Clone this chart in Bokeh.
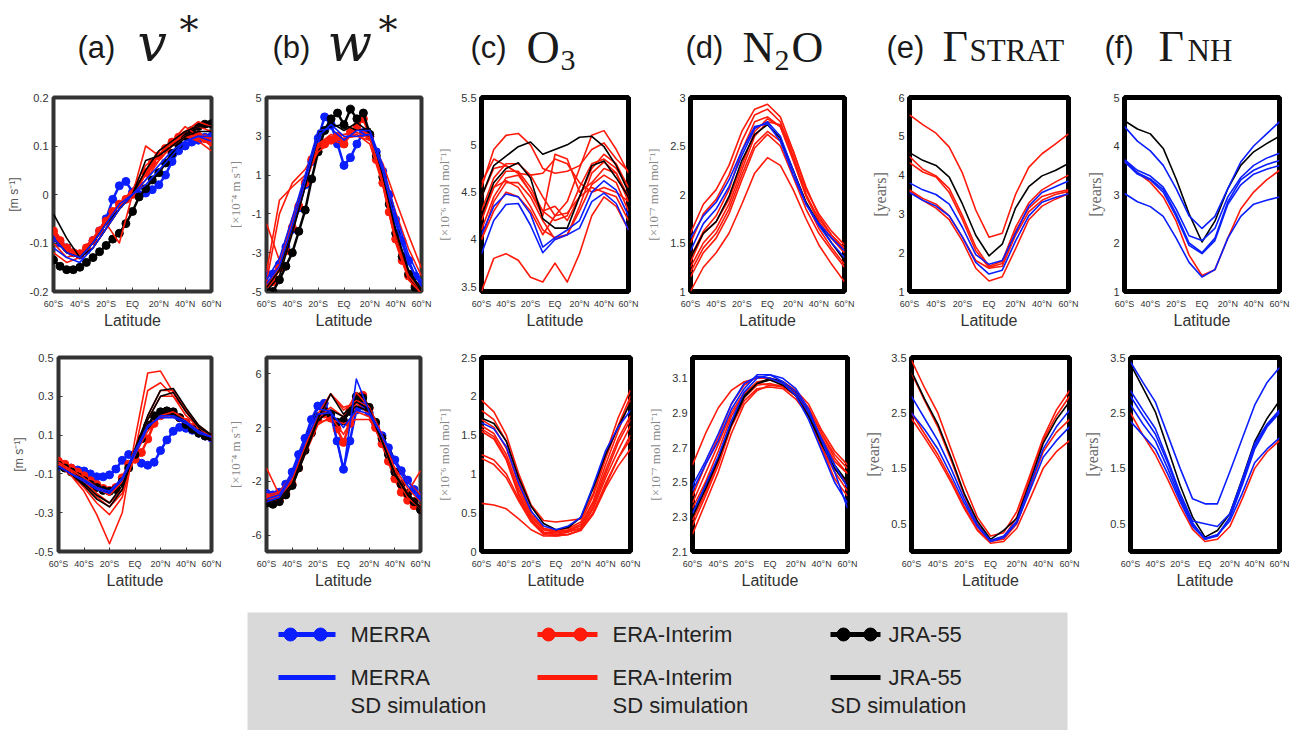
from bokeh.plotting import figure
from bokeh.layouts import column, row
from bokeh.models import Range1d, FixedTicker
from bokeh.embed import file_html
from bokeh.resources import INLINE
from bokeh.core.properties import value

# ---------------- data ----------------
LAT10 = [-60, -50, -40, -30, -20, -10, 0, 10, 20, 30, 40, 50, 60]
LAT5 = [-60, -55, -50, -45, -40, -35, -30, -25, -20, -15, -10, -5, 0,
        5, 10, 15, 20, 25, 30, 35, 40, 45, 50, 55, 60]
X_TICKS = [-60, -40, -20, 0, 20, 40, 60]
X_TICK_LABELS = ["60°S", "40°S", "20°S", "EQ", "20°N", "40°N", "60°N"]

# (a) v*  top row
A1_MERRA = [-0.09, -0.10, -0.11, -0.12, -0.125, -0.115, -0.095, -0.075, -0.05, -0.01, 0.018, 0.027, 0.005,
            0.0, 0.003, 0.01, 0.02, 0.04, 0.068, 0.09, 0.10, 0.108, 0.112, 0.118, 0.12]
A1_ERA = [-0.075, -0.095, -0.11, -0.12, -0.122, -0.11, -0.095, -0.075, -0.055, -0.035, -0.02, -0.01, 0.0,
          0.02, 0.045, 0.065, 0.08, 0.095, 0.108, 0.118, 0.122, 0.125, 0.12, 0.115, 0.11]
A1_JRA = [-0.135, -0.148, -0.155, -0.155, -0.15, -0.14, -0.13, -0.118, -0.105, -0.092, -0.08, -0.06, -0.035,
          -0.005, 0.012, 0.03, 0.045, 0.065, 0.085, 0.103, 0.12, 0.132, 0.14, 0.145, 0.146]
A1_SD_RED = [
    [-0.07, -0.11, -0.12, -0.10, -0.06, -0.02, 0.0, 0.04, 0.08, 0.11, 0.13, 0.14, 0.13],
    [-0.08, -0.12, -0.13, -0.11, -0.07, -0.03, 0.0, 0.05, 0.09, 0.11, 0.14, 0.12, 0.10],
    [-0.10, -0.13, -0.12, -0.09, -0.05, -0.02, 0.01, 0.06, 0.08, 0.10, 0.12, 0.11, 0.09],
    [-0.09, -0.12, -0.12, -0.10, -0.06, -0.10, 0.0, 0.10, 0.08, 0.10, 0.12, 0.13, 0.10],
    [-0.12, -0.14, -0.13, -0.10, -0.05, -0.02, 0.0, 0.03, 0.07, 0.10, 0.12, 0.12, 0.11],
    [-0.07, -0.11, -0.13, -0.11, -0.07, -0.03, 0.01, 0.04, 0.07, 0.10, 0.13, 0.15, 0.14],
]
A1_SD_BLACK = [
    [-0.04, -0.09, -0.13, -0.11, -0.07, -0.03, 0.0, 0.07, 0.08, 0.10, 0.12, 0.13, 0.13],
    [-0.09, -0.12, -0.13, -0.10, -0.06, -0.03, 0.0, 0.05, 0.09, 0.11, 0.13, 0.14, 0.14],
]
A1_SD_BLUE = [
    [-0.09, -0.12, -0.13, -0.10, -0.06, -0.02, 0.0, 0.03, 0.06, 0.09, 0.11, 0.12, 0.11],
    [-0.11, -0.13, -0.14, -0.11, -0.07, -0.03, 0.0, 0.02, 0.05, 0.08, 0.11, 0.12, 0.12],
]

# (b) w*  top row
B1_MERRA = [-4.1, -4.1, -3.6, -2.7, -1.8, -0.7, 0.5, 1.7, 2.9, 4.0, 3.6, 2.6, 1.5,
            1.9, 2.6, 3.2, 3.0, 2.2, 1.2, 0.0, -1.3, -2.4, -3.4, -4.2, -4.6]
B1_ERA = [-4.6, -4.5, -3.8, -2.9, -1.7, -0.6, 0.6, 1.8, 2.4, 2.6, 2.8, 3.0, 2.6,
          3.2, 3.5, 3.9, 3.0, 1.8, 0.6, -0.9, -2.3, -3.4, -4.2, -4.7, -5.0]
B1_JRA = [-5.4, -5.0, -4.4, -3.7, -3.0, -1.9, -0.8, 0.8, 2.2, 3.3, 3.9, 4.2, 3.6,
          4.4, 3.9, 4.2, 3.1, 2.0, 0.9, -0.5, -2.0, -3.2, -4.1, -4.8, -5.3]
B1_SD_RED = [
    [-4.6, -3.8, -1.7, 0.6, 2.4, 2.8, 2.6, 3.5, 3.0, 0.6, -2.3, -4.2, -5.0],
    [-4.0, -0.3, 0.4, 1.0, 2.2, 2.7, 2.9, 3.0, 2.8, 1.6, -0.3, -2.1, -3.8],
    [-4.5, -1.0, 0.6, 1.3, 2.5, 2.9, 3.1, 3.2, 2.9, 1.2, -0.9, -2.8, -4.2],
    [-1.5, -3.4, -1.2, 0.8, 2.6, 3.1, 2.8, 3.4, 3.1, 0.8, -2.0, -4.0, -4.9],
    [-4.8, -3.6, -1.4, 0.9, 2.6, 3.0, 2.9, 3.1, 2.6, 0.5, -2.5, -4.4, -5.1],
]
B1_SD_BLACK = [
    [-5.0, -4.2, -2.0, 0.4, 3.0, 3.5, 3.6, 3.3, 3.4, 1.0, -1.8, -4.0, -5.0],
    [-4.8, -3.9, -1.7, 0.8, 3.2, 3.7, 3.3, 3.7, 3.2, 1.1, -1.9, -3.9, -4.9],
]
B1_SD_BLUE = [
    [-4.4, -3.3, -1.2, 1.0, 3.3, 3.4, 2.8, 3.3, 3.3, 1.5, -1.0, -3.1, -4.5],
    [-4.6, -3.7, -1.6, 0.7, 3.0, 3.6, 3.0, 3.0, 3.1, 1.2, -1.5, -3.6, -4.7],
]

# (c) O3  top row
C1_SD_RED = [
    [4.55, 4.95, 5.1, 5.12, 5.0, 4.75, 4.7, 4.72, 4.78, 4.95, 5.02, 4.85, 4.72],
    [4.3, 4.65, 4.8, 4.8, 4.68, 4.45, 4.25, 4.4, 4.75, 5.1, 5.15, 4.95, 4.7],
    [4.2, 4.55, 4.72, 4.72, 4.55, 4.3, 4.35, 4.2, 4.45, 4.75, 4.9, 4.8, 4.55],
    [4.1, 4.45, 4.65, 4.68, 4.5, 4.25, 4.9, 4.85, 4.5, 4.6, 4.75, 4.7, 4.45],
    [4.0, 4.4, 4.6, 4.6, 4.45, 4.2, 4.0, 4.05, 4.35, 4.7, 4.82, 4.7, 4.4],
    [4.45, 4.75, 4.78, 4.7, 4.5, 4.3, 4.2, 4.25, 4.55, 4.8, 4.85, 4.75, 4.55],
    [4.25, 4.55, 4.62, 4.55, 4.35, 4.1, 4.02, 4.05, 4.3, 4.58, 4.68, 4.6, 4.3],
    [3.45, 3.8, 3.85, 3.78, 3.6, 3.55, 3.75, 3.55, 3.85, 4.25, 4.45, 4.35, 4.1],
    [4.0, 4.3, 4.5, 4.45, 4.3, 4.05, 4.25, 4.28, 4.45, 4.55, 4.5, 4.45, 4.2],
    [4.6, 4.85, 4.78, 4.7, 4.68, 4.7, 4.85, 4.8, 4.6, 4.5, 4.55, 4.5, 4.4],
]
C1_SD_BLACK = [
    [4.45, 4.78, 4.88, 4.98, 5.03, 4.9, 4.95, 5.0, 5.08, 5.09, 4.98, 4.78, 4.5],
    [4.25, 4.6, 4.75, 4.81, 4.65, 4.22, 4.12, 4.12, 4.45, 4.78, 4.83, 4.65, 4.45],
]
C1_SD_BLUE = [
    [4.05, 4.35, 4.48, 4.45, 4.27, 3.92, 4.02, 4.1, 4.2, 4.5, 4.62, 4.52, 4.25],
    [3.85, 4.2, 4.37, 4.38, 4.15, 3.86, 4.0, 4.05, 4.12, 4.4, 4.49, 4.38, 4.1],
]

# (d) N2O  top row
D1_SD_RED = [
    [1.6, 1.9, 2.05, 2.3, 2.65, 2.88, 2.93, 2.8, 2.45, 2.05, 1.8, 1.62, 1.48],
    [1.5, 1.8, 1.95, 2.2, 2.55, 2.82, 2.88, 2.75, 2.4, 2.0, 1.75, 1.58, 1.45],
    [1.3, 1.6, 1.72, 1.95, 2.3, 2.65, 2.78, 2.7, 2.35, 1.98, 1.72, 1.55, 1.4],
    [1.25, 1.5, 1.65, 1.9, 2.25, 2.6, 2.75, 2.72, 2.45, 2.08, 1.78, 1.58, 1.42],
    [1.2, 1.45, 1.6, 1.85, 2.2, 2.52, 2.65, 2.55, 2.25, 1.92, 1.65, 1.45, 1.28],
    [1.15, 1.4, 1.55, 1.8, 2.15, 2.48, 2.62, 2.5, 2.18, 1.85, 1.6, 1.42, 1.25],
    [1.0, 1.25, 1.4, 1.6, 1.9, 2.22, 2.38, 2.3, 2.05, 1.75, 1.48, 1.28, 1.1],
    [1.35, 1.62, 1.78, 2.05, 2.45, 2.75, 2.8, 2.7, 2.38, 2.0, 1.72, 1.55, 1.4],
]
D1_SD_BLACK = [
    [1.35, 1.6, 1.72, 1.98, 2.35, 2.62, 2.72, 2.58, 2.25, 1.92, 1.7, 1.5, 1.32],
]
D1_SD_BLUE = [
    [1.55, 1.78, 1.92, 2.15, 2.45, 2.7, 2.73, 2.55, 2.2, 1.9, 1.7, 1.55, 1.42],
    [1.42, 1.7, 1.85, 2.08, 2.4, 2.68, 2.75, 2.6, 2.25, 1.9, 1.68, 1.5, 1.35],
]

# (e) Gamma STRAT  top row
E1_SD_RED = [
    [5.55, 5.3, 5.08, 4.72, 4.05, 3.1, 2.4, 2.5, 3.5, 4.2, 4.55, 4.8, 5.06],
    [4.48, 4.15, 3.98, 3.65, 2.95, 2.15, 1.65, 1.78, 2.65, 3.28, 3.62, 3.82, 4.0],
    [4.32, 4.08, 3.95, 3.55, 2.85, 2.05, 1.62, 1.72, 2.55, 3.15, 3.45, 3.55, 3.62],
    [3.6, 3.35, 3.15, 2.85, 2.3, 1.6, 1.27, 1.38, 2.1, 2.85, 3.2, 3.38, 3.52],
    [3.62, 3.4, 3.25, 2.95, 2.4, 1.8, 1.6, 1.65, 2.45, 3.05, 3.35, 3.5, 3.58],
]
E1_SD_BLACK = [
    [4.58, 4.38, 4.25, 3.95, 3.25, 2.45, 1.92, 2.22, 3.15, 3.7, 3.98, 4.12, 4.3],
]
E1_SD_BLUE = [
    [3.8, 3.62, 3.5, 3.25, 2.65, 1.95, 1.7, 1.8, 2.5, 3.2, 3.55, 3.7, 3.85],
    [3.55, 3.35, 3.2, 2.95, 2.4, 1.75, 1.45, 1.55, 2.3, 2.95, 3.3, 3.42, 3.52],
]

# (f) Gamma NH  top row
F1_SD_RED = [
    [3.68, 3.45, 3.25, 2.95, 2.45, 1.75, 1.33, 1.45, 2.1, 2.7, 3.05, 3.3, 3.5],
]
F1_SD_BLACK = [
    [4.52, 4.35, 4.25, 3.95, 3.32, 2.6, 2.02, 2.45, 3.12, 3.6, 3.88, 4.05, 4.2],
]
F1_SD_BLUE = [
    [4.4, 4.1, 3.9, 3.6, 3.12, 2.56, 2.3, 2.55, 3.12, 3.67, 4.0, 4.25, 4.5],
    [3.72, 3.5, 3.38, 3.15, 2.7, 2.15, 2.05, 2.3, 2.95, 3.35, 3.6, 3.75, 3.85],
    [3.7, 3.45, 3.32, 3.1, 2.6, 2.0, 1.8, 2.1, 2.85, 3.3, 3.5, 3.62, 3.7],
    [3.68, 3.42, 3.3, 3.05, 2.55, 1.95, 1.78, 2.05, 2.8, 3.2, 3.42, 3.52, 3.6],
    [3.02, 2.85, 2.75, 2.55, 2.1, 1.6, 1.3, 1.45, 2.1, 2.55, 2.8, 2.88, 2.95],
]

# (a) v*  bottom row
A2_MERRA = [-0.06, -0.065, -0.07, -0.08, -0.085, -0.1, -0.115, -0.115, -0.105, -0.075, -0.03, 0.0, -0.02,
            -0.045, -0.055, -0.04, 0.02, 0.075, 0.12, 0.14, 0.135, 0.125, 0.11, 0.095, 0.085]
A2_ERA = [-0.035, -0.05, -0.07, -0.09, -0.11, -0.135, -0.155, -0.175, -0.185, -0.17, -0.12, -0.05, -0.025,
          0.01, 0.08, 0.16, 0.2, 0.215, 0.21, 0.19, 0.165, 0.14, 0.12, 0.1, 0.09]
A2_JRA = [-0.055, -0.07, -0.09, -0.115, -0.135, -0.155, -0.17, -0.185, -0.19, -0.18, -0.14, -0.07, 0.0,
          0.08, 0.15, 0.2, 0.22, 0.225, 0.22, 0.19, 0.155, 0.13, 0.11, 0.095, 0.09]
A2_SD_RED = [
    [-0.055, -0.11, -0.19, -0.31, -0.46, -0.3, 0.08, 0.42, 0.43, 0.32, 0.23, 0.15, 0.1],
    [-0.05, -0.1, -0.17, -0.25, -0.31, -0.22, 0.02, 0.33, 0.37, 0.3, 0.2, 0.14, 0.1],
    [-0.05, -0.09, -0.15, -0.22, -0.27, -0.2, 0.0, 0.2, 0.33, 0.33, 0.22, 0.14, 0.09],
    [-0.05, -0.09, -0.14, -0.2, -0.25, -0.18, 0.0, 0.18, 0.3, 0.3, 0.23, 0.14, 0.09],
    [-0.04, -0.08, -0.12, -0.17, -0.21, -0.14, 0.0, 0.12, 0.2, 0.22, 0.18, 0.12, 0.09],
]
A2_SD_BLACK = [
    [-0.06, -0.1, -0.16, -0.23, -0.27, -0.18, 0.03, 0.2, 0.33, 0.34, 0.24, 0.15, 0.1],
    [-0.06, -0.1, -0.15, -0.21, -0.25, -0.16, 0.02, 0.18, 0.3, 0.32, 0.22, 0.14, 0.1],
]
A2_SD_BLUE = [
    [-0.06, -0.1, -0.14, -0.18, -0.2, -0.13, 0.0, 0.14, 0.2, 0.2, 0.17, 0.12, 0.09],
    [-0.06, -0.1, -0.13, -0.17, -0.19, -0.12, 0.02, 0.15, 0.19, 0.19, 0.16, 0.11, 0.09],
]

# (b) w*  bottom row
B2_MERRA = [-2.9, -3.0, -2.8, -2.2, -1.3, 0.0, 1.2, 2.6, 3.6, 3.8, 3.0, 1.0, -1.1,
            1.0, 3.3, 3.6, 3.1, 2.3, 1.4, 0.5, -0.4, -1.2, -1.9, -2.6, -3.1]
B2_ERA = [-3.2, -3.5, -3.4, -2.9, -2.2, -1.0, 0.4, 1.6, 2.6, 3.0, 2.7, 1.9, 0.9,
          2.3, 4.1, 4.4, 3.4, 2.0, 0.8, -0.5, -1.8, -2.8, -3.4, -3.8, -4.0]
B2_JRA = [-3.6, -3.7, -3.5, -3.0, -2.3, -1.0, 0.3, 1.6, 2.8, 3.2, 3.0, 2.4, 2.5,
          3.2, 4.3, 4.2, 3.5, 2.4, 1.2, 0.0, -1.3, -2.2, -2.9, -3.5, -4.1]
B2_SD_RED = [
    [-1.0, -3.0, -1.8, 0.5, 3.0, 4.5, 3.3, 4.0, 3.5, 1.2, -1.5, -2.8, -1.2],
    [-3.3, -3.2, -2.0, 0.2, 2.5, 4.5, 3.5, 3.8, 3.0, 1.0, -1.0, -2.5, -3.5],
    [-3.0, -2.8, -1.5, 0.8, 2.7, 3.5, 2.8, 4.6, 3.5, 1.5, -1.2, -2.9, -3.9],
    [-3.5, -3.3, -2.2, 0.0, 2.2, 2.8, 1.5, 3.2, 2.8, 0.8, -1.5, -3.2, -4.0],
    [-3.2, -2.9, -1.8, 0.5, 2.4, 2.6, 2.3, 2.6, 2.6, 1.2, -0.5, -2.0, -3.0],
]
B2_SD_BLACK = [
    [-3.5, -3.3, -2.2, 0.3, 2.6, 4.5, 3.0, 3.9, 3.4, 1.0, -1.5, -3.0, -4.0],
    [-3.7, -3.5, -2.4, 0.0, 2.5, 3.3, 2.8, 3.6, 3.2, 1.0, -1.4, -2.9, -3.9],
]
B2_SD_BLUE = [
    [-3.3, -3.0, -1.4, 1.1, 3.4, 3.2, -1.2, 5.6, 3.2, 1.4, -0.4, -2.0, -3.2],
    [-3.5, -3.2, -1.6, 0.9, 3.0, 3.1, 2.0, 3.3, 3.0, 1.4, -0.6, -2.3, -3.4],
]

# (c) O3  bottom row
C2_SD_RED = [
    [1.95, 1.8, 1.5, 1.0, 0.6, 0.4, 0.38, 0.4, 0.42, 0.75, 1.25, 1.72, 2.08],
    [1.82, 1.7, 1.42, 0.92, 0.52, 0.3, 0.27, 0.3, 0.38, 0.72, 1.2, 1.62, 2.0],
    [1.7, 1.6, 1.33, 0.85, 0.48, 0.28, 0.25, 0.28, 0.35, 0.65, 1.12, 1.55, 1.95],
    [1.62, 1.52, 1.25, 0.8, 0.45, 0.28, 0.26, 0.27, 0.33, 0.62, 1.05, 1.45, 1.75],
    [1.58, 1.48, 1.2, 0.75, 0.42, 0.25, 0.24, 0.26, 0.3, 0.58, 1.0, 1.4, 1.7],
    [1.55, 1.45, 1.18, 0.72, 0.4, 0.24, 0.22, 0.25, 0.3, 0.55, 0.95, 1.3, 1.62],
    [1.25, 1.18, 1.0, 0.68, 0.4, 0.24, 0.22, 0.22, 0.28, 0.5, 0.88, 1.2, 1.5],
    [1.2, 1.12, 0.95, 0.65, 0.38, 0.22, 0.2, 0.22, 0.27, 0.48, 0.82, 1.1, 1.32],
    [0.62, 0.6, 0.55, 0.42, 0.28, 0.2, 0.2, 0.22, 0.28, 0.5, 0.85, 1.2, 1.45],
]
C2_SD_BLACK = [
    [1.72, 1.65, 1.42, 0.95, 0.58, 0.36, 0.28, 0.31, 0.44, 0.82, 1.25, 1.6, 1.92],
]
C2_SD_BLUE = [
    [1.66, 1.58, 1.35, 0.88, 0.52, 0.33, 0.28, 0.33, 0.44, 0.85, 1.3, 1.6, 1.82],
]

# (d) N2O  bottom row
D2_SD_RED = [
    [2.6, 2.78, 2.93, 3.03, 3.08, 3.1, 3.1, 3.08, 3.03, 2.95, 2.8, 2.68, 2.6],
    [2.2, 2.38, 2.56, 2.78, 2.95, 3.03, 3.06, 3.05, 3.0, 2.9, 2.76, 2.62, 2.55],
    [2.25, 2.42, 2.6, 2.82, 2.97, 3.04, 3.05, 3.04, 2.98, 2.88, 2.72, 2.58, 2.5],
    [2.35, 2.5, 2.68, 2.88, 3.01, 3.08, 3.09, 3.07, 3.01, 2.92, 2.78, 2.64, 2.55],
    [2.42, 2.6, 2.76, 2.95, 3.06, 3.11, 3.1, 3.07, 3.01, 2.9, 2.7, 2.52, 2.42],
    [2.28, 2.44, 2.62, 2.84, 2.99, 3.06, 3.07, 3.05, 3.0, 2.88, 2.7, 2.56, 2.45],
    [2.38, 2.55, 2.72, 2.9, 3.02, 3.07, 3.06, 3.06, 3.02, 2.93, 2.78, 2.66, 2.58],
]
D2_SD_BLACK = [
    [2.32, 2.48, 2.64, 2.85, 3.0, 3.07, 3.09, 3.06, 3.0, 2.88, 2.72, 2.58, 2.48],
    [2.3, 2.46, 2.63, 2.83, 2.99, 3.07, 3.1, 3.08, 3.02, 2.9, 2.74, 2.6, 2.5],
]
D2_SD_BLUE = [
    [2.45, 2.6, 2.74, 2.92, 3.04, 3.12, 3.12, 3.1, 3.04, 2.92, 2.74, 2.56, 2.35],
    [2.32, 2.48, 2.65, 2.85, 3.02, 3.1, 3.12, 3.08, 3.02, 2.9, 2.75, 2.6, 2.47],
    [2.48, 2.62, 2.78, 2.95, 3.07, 3.11, 3.1, 3.07, 3.0, 2.86, 2.68, 2.5, 2.38],
]

# (e) Gamma STRAT  bottom row
E2_SD_RED = [
    [3.45, 2.95, 2.5, 1.85, 1.2, 0.62, 0.28, 0.34, 0.72, 1.38, 2.05, 2.55, 2.9],
    [3.22, 2.72, 2.25, 1.65, 1.02, 0.5, 0.2, 0.26, 0.62, 1.32, 2.0, 2.45, 2.8],
    [2.5, 2.12, 1.75, 1.3, 0.82, 0.4, 0.18, 0.22, 0.5, 1.15, 1.8, 2.15, 2.38],
    [2.4, 2.05, 1.68, 1.25, 0.78, 0.38, 0.15, 0.18, 0.42, 0.95, 1.5, 1.8, 2.0],
]
E2_SD_BLACK = [
    [3.25, 2.75, 2.3, 1.7, 1.05, 0.55, 0.22, 0.38, 0.6, 1.25, 1.95, 2.38, 2.7],
]
E2_SD_BLUE = [
    [2.8, 2.4, 2.0, 1.5, 0.95, 0.48, 0.2, 0.28, 0.55, 1.2, 1.85, 2.25, 2.55],
    [2.5, 2.2, 1.85, 1.38, 0.88, 0.45, 0.18, 0.25, 0.52, 1.1, 1.7, 2.0, 2.25],
]

# (f) Gamma NH  bottom row
F2_SD_RED = [
    [2.5, 2.1, 1.75, 1.3, 0.82, 0.4, 0.18, 0.22, 0.45, 0.95, 1.5, 1.8, 2.0],
]
F2_SD_BLACK = [
    [3.38, 2.95, 2.52, 1.86, 1.19, 0.62, 0.26, 0.38, 0.68, 1.31, 1.98, 2.4, 2.72],
]
F2_SD_BLUE = [
    [3.42, 3.05, 2.7, 2.1, 1.5, 0.95, 0.86, 0.86, 1.44, 2.04, 2.64, 3.05, 3.32],
    [2.9, 2.55, 2.22, 1.65, 1.05, 0.55, 0.5, 0.45, 0.68, 1.3, 1.95, 2.3, 2.55],
    [2.8, 2.45, 2.12, 1.6, 1.0, 0.52, 0.22, 0.28, 0.62, 1.25, 1.9, 2.28, 2.52],
    [2.65, 2.3, 2.0, 1.5, 0.95, 0.48, 0.24, 0.3, 0.6, 1.2, 1.85, 2.25, 2.5],
    [2.35, 2.1, 1.85, 1.4, 0.9, 0.45, 0.22, 0.3, 0.55, 1.05, 1.6, 1.85, 2.05],
]

# axis ticks
Y_TICKS = {
    "a1": [-0.2, -0.1, 0, 0.1, 0.2], "b1": [-5, -3, -1, 1, 3, 5], "c1": [3.5, 4, 4.5, 5, 5.5],
    "d1": [1, 1.5, 2, 2.5, 3], "e1": [1, 2, 3, 4, 5, 6], "f1": [1, 2, 3, 4, 5],
    "a2": [-0.5, -0.3, -0.1, 0.1, 0.3, 0.5], "b2": [-6, -2, 2, 6], "c2": [0, 0.5, 1, 1.5, 2, 2.5],
    "d2": [2.1, 2.3, 2.5, 2.7, 2.9, 3.1], "e2": [0.5, 1.5, 2.5, 3.5], "f2": [0.5, 1.5, 2.5, 3.5],
}
Y_RANGES = {
    "a1": (-0.2, 0.2), "b1": (-5, 5), "c1": (3.45, 5.5), "d1": (1, 3), "e1": (1, 6), "f1": (1, 5),
    "a2": (-0.5, 0.5), "b2": (-7.2, 7.2), "c2": (0, 2.5), "d2": (2.1, 3.22), "e2": (0, 3.5), "f2": (0, 3.5),
}
Y_LABELS = {
    "a": "[m s⁻¹]", "b": "[×10⁻⁴ m s⁻¹]", "c": "[×10⁻⁶ mol mol⁻¹]",
    "d": "[×10⁻⁷ mol mol⁻¹]", "e": "[years]", "f": "[years]",
}

SERIES_NAMES = ["MERRA", "ERA-Interim", "JRA-55"]
BLUE = "#0a1eff"
RED = "#ff1a0a"
BLACK = "#000000"
SERIES_COLORS = [BLUE, RED, BLACK]

# ---------------- layout / style ----------------
# (width, border_left, border_right) per panel
ROW1_GEOM = [(224, 53, 13), (210, 39, 13), (209, 38, 15), (216, 46, 15), (222, 50, 13), (211, 43, 13)]
ROW2_GEOM = [(224, 58, 13), (210, 40, 14), (211, 39, 15), (217, 47, 15), (219, 45, 12), (211, 42, 13)]
ROW1_H, ROW1_TOP, ROW1_BOT = 247, 7, 46
ROW2_H, ROW2_TOP, ROW2_BOT = 263, 20, 49
HDR_H = 90
LEG_H = 130
PAGE_W = 1292
SANS = "Liberation Sans"
SERIF = "Liberation Serif"


def make_panel(key, geom, h, top, bot, sims, reans):
    col = key[0]
    w, bl, br = geom
    matlab = col in "ab"
    p = figure(width=w, height=h, x_range=Range1d(-60, 60), y_range=Range1d(*Y_RANGES[key]),
               output_backend="svg", toolbar_location=None, title=None,
               min_border_left=bl, min_border_right=br, min_border_top=top, min_border_bottom=bot)
    p.xgrid.visible = False
    p.ygrid.visible = False
    p.outline_line_color = "#333333" if matlab else "#000000"
    p.outline_line_width = 4 if matlab else 5
    p.background_fill_color = "white"
    p.border_fill_color = "white"

    xa = p.xaxis[0]
    xa.ticker = FixedTicker(ticks=X_TICKS)
    xa.major_label_overrides = dict(zip(X_TICKS, X_TICK_LABELS))
    xa.major_label_text_font = SANS
    xa.major_label_text_font_size = "9px"
    xa.major_label_text_color = "#333333"
    xa.major_label_standoff = 7
    xa.axis_label = "Latitude"
    xa.axis_label_text_font = SANS
    xa.axis_label_text_font_size = "16px"
    xa.axis_label_text_font_style = "normal"
    xa.axis_label_text_color = "#333333"
    xa.axis_label_standoff = 0
    xa.axis_line_color = None
    xa.minor_tick_line_color = None
    xa.major_tick_out = 0
    xa.major_tick_in = 4 if matlab else 0
    xa.major_tick_line_color = "#333333"

    ya = p.yaxis[0]
    yt = Y_TICKS[key]
    ya.ticker = FixedTicker(ticks=yt)
    ya.major_label_overrides = {t: f"{t:g}" for t in yt}
    ya.major_label_text_font = SANS
    ya.major_label_text_font_size = "11px"
    ya.major_label_text_color = "#333333"
    ya.major_label_standoff = 5
    ya.axis_label = Y_LABELS[col]
    if col == "a":
        ya.axis_label_text_font = SANS
        ya.axis_label_text_font_size = "12px"
        ya.axis_label_text_color = "#555555"
    elif col in "ef":
        ya.axis_label_text_font = SERIF
        ya.axis_label_text_font_size = "16px"
        ya.axis_label_text_color = "#666666"
    else:
        ya.axis_label_text_font = SERIF
        ya.axis_label_text_font_size = "13px"
        ya.axis_label_text_color = "#888888"
    ya.axis_label_text_font_style = "normal"
    ya.axis_label_standoff = 6
    ya.axis_line_color = None
    ya.minor_tick_line_color = None
    ya.major_tick_out = 0
    ya.major_tick_in = 4 if matlab else 0
    ya.major_tick_line_color = "#333333"

    for color, vals in reans:
        p.line(LAT5, vals, line_color=color, line_width=2.5)
        p.scatter(LAT5, vals, size=8, marker="circle", fill_color=color, line_color=color)
    for color, group in sims:
        for vals in group:
            p.line(LAT10, vals, line_color=color, line_width=1.6, line_join="round")
    return p


def sims_of(red, black, blue):
    return [(RED, red), (BLACK, black), (BLUE, blue)]


row1_specs = [
    ("a1", sims_of(A1_SD_RED, A1_SD_BLACK, A1_SD_BLUE), [(BLUE, A1_MERRA), (RED, A1_ERA), (BLACK, A1_JRA)]),
    ("b1", sims_of(B1_SD_RED, B1_SD_BLACK, B1_SD_BLUE), [(BLUE, B1_MERRA), (RED, B1_ERA), (BLACK, B1_JRA)]),
    ("c1", sims_of(C1_SD_RED, C1_SD_BLACK, C1_SD_BLUE), []),
    ("d1", sims_of(D1_SD_RED, D1_SD_BLACK, D1_SD_BLUE), []),
    ("e1", sims_of(E1_SD_RED, E1_SD_BLACK, E1_SD_BLUE), []),
    ("f1", sims_of(F1_SD_RED, F1_SD_BLACK, F1_SD_BLUE), []),
]
row2_specs = [
    ("a2", sims_of(A2_SD_RED, A2_SD_BLACK, A2_SD_BLUE), [(BLUE, A2_MERRA), (RED, A2_ERA), (BLACK, A2_JRA)]),
    ("b2", sims_of(B2_SD_RED, B2_SD_BLACK, B2_SD_BLUE), [(BLUE, B2_MERRA), (RED, B2_ERA), (BLACK, B2_JRA)]),
    ("c2", sims_of(C2_SD_RED, C2_SD_BLACK, C2_SD_BLUE), []),
    ("d2", sims_of(D2_SD_RED, D2_SD_BLACK, D2_SD_BLUE), []),
    ("e2", sims_of(E2_SD_RED, E2_SD_BLACK, E2_SD_BLUE), []),
    ("f2", sims_of(F2_SD_RED, F2_SD_BLACK, F2_SD_BLUE), []),
]

row1 = row(*[make_panel(k, g, ROW1_H, ROW1_TOP, ROW1_BOT, s, r)
             for (k, s, r), g in zip(row1_specs, ROW1_GEOM)])
row2 = row(*[make_panel(k, g, ROW2_H, ROW2_TOP, ROW2_BOT, s, r)
             for (k, s, r), g in zip(row2_specs, ROW2_GEOM)])


def canvas(h, y_top):
    # a plain drawing area whose coordinates are page pixels
    c = figure(width=PAGE_W, height=h, x_range=Range1d(0, PAGE_W), y_range=Range1d(y_top + h, y_top),
               output_backend="svg", toolbar_location=None, title=None,
               x_axis_type=None, y_axis_type=None, min_border=0)
    c.xgrid.visible = False
    c.ygrid.visible = False
    c.outline_line_color = None
    c.background_fill_color = "white"
    c.border_fill_color = "white"
    return c


# ---- header with panel titles (page coordinates, vertical centres) ----
hdr = canvas(HDR_H, 0)
TITLE_PIECES = [
    # text, x, centre y, font, size, style
    ("(a)", 77, 47, SANS, "31px", "normal"), ("v", 137, 42, "DejaVu Serif", "52px", "italic"),
    ("*", 179, 29, "DejaVu Serif", "38px", "normal"),
    ("(b)", 272, 47, SANS, "31px", "normal"), ("w", 327, 42, "DejaVu Serif", "52px", "italic"),
    ("*", 378, 29, "DejaVu Serif", "38px", "normal"),
    ("(c)", 470, 47, SANS, "31px", "normal"), ("O", 526, 47, SERIF, "46px", "normal"),
    ("3", 560, 60, SERIF, "30px", "normal"),
    ("(d)", 685, 47, SANS, "31px", "normal"), ("N", 742, 47, SERIF, "44px", "normal"),
    ("2", 774, 60, SERIF, "30px", "normal"), ("O", 791, 47, SERIF, "44px", "normal"),
    ("(e)", 886, 47, SANS, "31px", "normal"), ("Γ", 942, 46, SERIF, "44px", "normal"),
    ("STRAT", 969, 50, SERIF, "31px", "normal"),
    ("(f)", 1104, 47, SANS, "31px", "normal"), ("Γ", 1158, 46, SERIF, "44px", "normal"),
    ("NH", 1187, 50, SERIF, "31px", "normal"),
]
for t, x, y, f, s, st in TITLE_PIECES:
    hdr.text(x=[x], y=[y], text=[t], text_font=value(f), text_font_size=value(s), text_font_style=st,
             text_color="#1a1a1a", text_align="left", text_baseline="middle")

# ---- legend box ----
leg_top = HDR_H + ROW1_H + ROW2_H
leg = canvas(LEG_H, leg_top)
leg.quad(left=[247], right=[1067], top=[612], bottom=[745], fill_color="#d9d9d9", line_color=None)
LEG_X0 = [278, 537, 830]                  # sample line starts
LEG_X1_ROW1 = [335, 597, 880]             # sample line ends, reanalysis row
LEG_X1_ROW2 = [335, 597, 880]             # sample line ends, SD row
LEG_DOTS = [[290, 320], [548, 580], [843, 870]]
LEG_TEXT_X = [350, 612, 888]
LEG_SD_X = [350, 612, 830]
LEG_FONT = "22px"
for i in range(3):
    c = SERIES_COLORS[i]
    leg.line([LEG_X0[i], LEG_X1_ROW1[i]], [634, 634], line_color=c, line_width=5)
    leg.scatter(LEG_DOTS[i], [634, 634], size=13, marker="circle", fill_color=c, line_color=c)
    leg.text(x=[LEG_TEXT_X[i]], y=[634], text=[SERIES_NAMES[i]], text_font=value(SANS),
             text_font_size=value(LEG_FONT), text_color="#222222", text_baseline="middle")
    leg.line([LEG_X0[i], LEG_X1_ROW2[i]], [677, 677], line_color=c, line_width=5)
    leg.text(x=[LEG_TEXT_X[i]], y=[677], text=[SERIES_NAMES[i]], text_font=value(SANS),
             text_font_size=value(LEG_FONT), text_color="#222222", text_baseline="middle")
    leg.text(x=[LEG_SD_X[i]], y=[705], text=["SD simulation"], text_font=value(SANS),
             text_font_size=value(LEG_FONT), text_color="#222222", text_baseline="middle")

layout = column(hdr, row1, row2, leg)
open("out.html", "w").write(file_html(layout, INLINE))
